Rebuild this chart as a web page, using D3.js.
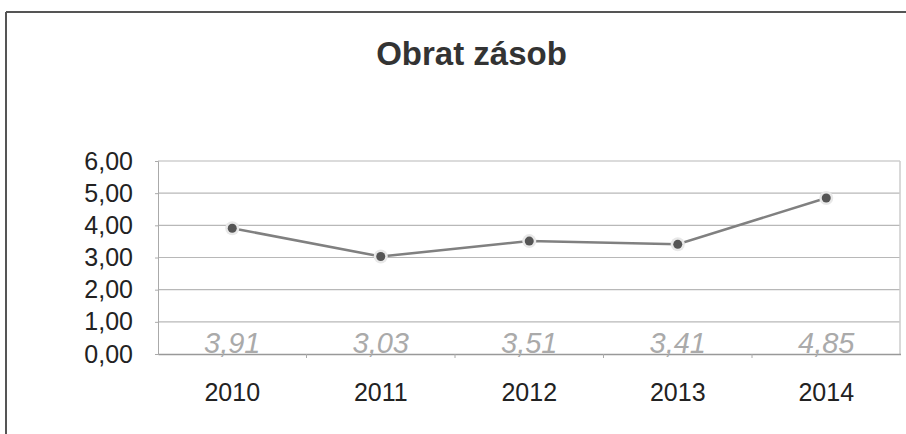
<!DOCTYPE html>
<html><head><meta charset="utf-8">
<script src="https://cdn.jsdelivr.net/npm/d3@7"></script>
<style>body{margin:0;background:#fff;}svg{display:block;}</style>
</head><body>
<svg id="c" width="906" height="434"></svg>
<script>
const categories = ["2010","2011","2012","2013","2014"];
const values = [3.91, 3.03, 3.51, 3.41, 4.85];
const yTicks = [0,1,2,3,4,5,6];
const title = "Obrat zásob";

const svg = d3.select("#c");
const fmt = v => d3.format(".2f")(v).replace(".", ",");
const FF = "Liberation Sans, Arial, sans-serif";

// outer frame
svg.append("line").attr("x1",6).attr("x2",906).attr("y1",12).attr("y2",12).attr("stroke","#555").attr("stroke-width",2);
svg.append("line").attr("x1",6).attr("x2",6).attr("y1",12).attr("y2",434).attr("stroke","#555").attr("stroke-width",2);

svg.append("text").attr("x",471.5).attr("y",65).attr("text-anchor","middle")
  .attr("font-family",FF).attr("font-weight","bold")
  .attr("font-size",33).attr("fill","#333").text(title);

const x = d3.scaleBand().domain(categories).range([158, 900.5]);
const y = d3.scaleLinear().domain([0,6]).range([354, 161]);

// gridlines
svg.append("g").selectAll("line").data(yTicks.filter(d=>d>0)).join("line")
  .attr("x1",158).attr("x2",900).attr("y1",d=>y(d)).attr("y2",d=>y(d))
  .attr("stroke","#b8b8b8").attr("stroke-width",1.2);
svg.append("line").attr("x1",900).attr("x2",900).attr("y1",161).attr("y2",354).attr("stroke","#ccc").attr("stroke-width",1.5);

// y axis
const ya = svg.append("g").attr("transform","translate(158,0)")
  .call(d3.axisLeft(y).tickValues(yTicks).tickFormat(fmt).tickSize(3).tickPadding(22));
ya.select(".domain").attr("stroke","#aaa");
ya.selectAll(".tick line").attr("stroke","#aaa");
ya.selectAll("text").attr("font-family",FF).attr("font-size",25).attr("fill","#222");

// x axis
const xa = svg.append("g").attr("transform","translate(0,354)")
  .call(d3.axisBottom(x).tickSize(0).tickPadding(29));
xa.select(".domain").attr("stroke","#999").attr("stroke-width",1.5);
xa.selectAll("text").attr("font-family",FF).attr("font-size",25).attr("fill","#222");
svg.append("g").selectAll("line").data(categories.slice(1)).join("line")
  .attr("x1",d=>x(d)).attr("x2",d=>x(d)).attr("y1",354).attr("y2",358).attr("stroke","#aaa");

const cx = d => x(d) + x.bandwidth()/2;
// line
svg.append("path").datum(values).attr("fill","none").attr("stroke","#808080").attr("stroke-width",2.5)
  .attr("d", d3.line().x((d,i)=>cx(categories[i])).y(d=>y(d)));
// markers
svg.append("g").selectAll("circle").data(values).join("circle")
  .attr("cx",(d,i)=>cx(categories[i])).attr("cy",d=>y(d)).attr("r",7).attr("fill","#e8e8e8");
svg.append("g").selectAll("circle").data(values).join("circle")
  .attr("cx",(d,i)=>cx(categories[i])).attr("cy",d=>y(d)).attr("r",4.5).attr("fill","#555");

// data labels
svg.append("g").selectAll("text").data(values).join("text")
  .attr("x",(d,i)=>cx(categories[i])).attr("y",353).attr("text-anchor","middle")
  .attr("font-family",FF).attr("font-style","italic")
  .attr("font-size",29).attr("fill","#aaa").text(d=>fmt(d));
</script>
</body></html>
